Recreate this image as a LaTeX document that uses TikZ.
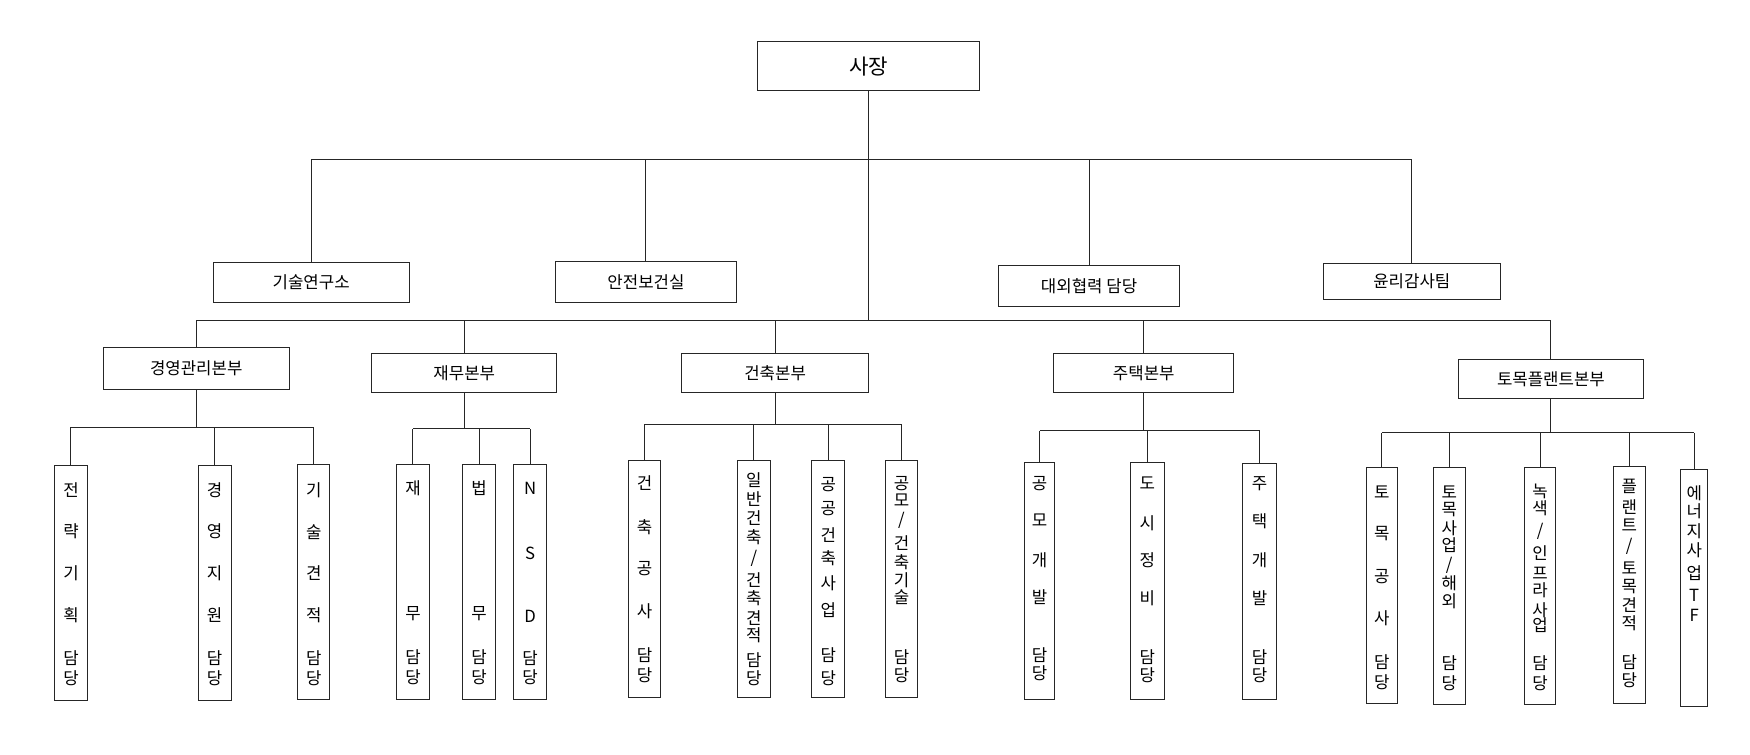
\documentclass[tikz,border=0pt]{standalone}
\usepackage{fontspec}
\setmainfont{Noto Sans CJK KR}
\newcommand\sls{/}
\newcommand\orgh[6]{\node[bx,minimum width=#4,minimum height=#5] (#1) at (#2,#3) {#6};}
\newcommand\orgv[6]{\node[bx,minimum width=#3-#2,minimum height=#5-#4] (#1) at ({(#2+#3)/2},{(#4+#5)/2}) {};
  \foreach \yz/\c [count=\i] in {#6} \node[vch] (#1c\i) at ({(#2+#3)/2},{340.5+0.2987*\yz}) {\c};}
\begin{document}
\begin{tikzpicture}[x=1pt,y=-1pt,
  ln/.style={line width=0.9pt,draw=black!85},
  bx/.style={draw=black!85,line width=0.9pt,rectangle,inner sep=0pt,font=\fontsize{15}{18}\selectfont},
  vch/.style={inner sep=0pt,font=\fontsize{15}{18}\selectfont}]
\useasboundingbox (0,0) rectangle (1568,676);
% top
\node[bx,minimum width=199,minimum height=43.7,font=\fontsize{19}{22}\selectfont] (ceo) at (778.5,59.2) {사장};
\orgh{rnd}{278.8}{252.8}{175.5}{35.6}{기술연구소}
\orgh{safe}{578.8}{252.8}{162.5}{36.5}{안전보건실}
\orgh{ext}{975.8}{256.2}{162.5}{36.7}{대외협력 담당}
\orgh{eth}{1265}{252}{158}{32}{윤리감사팀}
\orgh{mgmt}{175.8}{329.8}{166.5}{37.6}{경영관리본부}
\orgh{fin}{416}{334}{166}{35}{재무본부}
\orgh{arch}{694.5}{334.5}{167}{35}{건축본부}
\orgh{hous}{1024.8}{334}{161.6}{35}{주택본부}
\orgh{civ}{1389.6}{339.5}{166}{35}{토목플랜트본부}
% vertical boxes
\orgv{v1}{48.6}{78.6}{417}{628}{330/전,455/략,580/기,705/획,835/담,895/당}
\orgv{v2}{177.6}{207}{417}{628}{330/경,455/영,580/지,705/원,835/담,895/당}
\orgv{v3}{267}{295.5}{416}{627}{330/기,455/술,580/견,705/적,835/담,895/당}
\orgv{v4}{355.5}{384.5}{416}{627}{325/재,700/무,830/담,890/당}
\orgv{v5}{414.5}{444}{416}{627}{325/법,700/무,830/담,890/당}
\orgv{v6}{460}{490}{416}{627}{325/N,520/S,710/D,835/담,890/당}
\orgv{v7}{563}{592}{413}{625}{310/건,440/축,565/공,695/사,825/담,885/당}
\orgv{v8}{661}{690}{413}{625}{300/일,357/반,415/건,470/축,535/\sls,600/건,655/축,715/견,765/적,840/담,895/당}
\orgv{v9}{727.5}{757}{413}{625}{315/공,385/공,465/건,535/축,610/사,690/업,825/담,895/당}
\orgv{v10}{793.4}{822}{413}{625}{310/공,360/모,420/\sls,490/건,545/축,600/기,650/술,830/담,885/당}
\orgv{v11}{918}{945}{414}{627}{310/공,420/모,540/개,650/발,825/담,880/당}
\orgv{v12}{1013}{1043}{414}{627}{310/도,430/시,540/정,655/비,830/담,885/당}
\orgv{v13}{1113}{1144}{415}{627}{310/주,425/택,540/개,655/발,830/담,885/당}
\orgv{v14}{1224}{1252}{419}{630}{335/토,460/목,590/공,715/사,845/담,905/당}
\orgv{v15}{1284}{1313}{419}{631}{335/토,390/목,445/사,495/업,555/\sls,610/해,665/외,850/담,910/당}
\orgv{v16}{1366}{1394}{419}{631}{335/녹,385/색,455/\sls,520/인,580/프,630/라,690/사,735/업,850/담,910/당}
\orgv{v17}{1445.6}{1474}{418}{630}{320/플,380/랜,435/트,500/\sls,565/토,620/목,675/견,730/적,845/담,900/당}
\orgv{v18}{1506}{1530}{421}{633}{340/에,395/너,455/지,510/사,580/업,645/T,705/F}
% buses
\coordinate (b1) at (0,142.8);
\coordinate (b2) at (0,287.6);
\coordinate (bm) at (0,383);
\coordinate (bf) at (0,384);
\coordinate (ba) at (0,380);
\coordinate (bh) at (0,386);
\coordinate (bc) at (0,387.7);
\draw[ln] (ceo.south) -- (ceo.south |- b2);
\draw[ln] (rnd.north |- b1) -- (eth.north |- b1);
\foreach \n in {rnd,safe,ext,eth} \draw[ln] (\n.north) -- (\n.north |- b1);
\draw[ln] (mgmt.north |- b2) -- (civ.north |- b2);
\foreach \n in {mgmt,fin,arch,hous,civ} \draw[ln] (\n.north) -- (\n.north |- b2);
% level 4
\draw[ln] (mgmt.south) -- (mgmt.south |- bm);
\draw[ln] (v1.north |- bm) -- (v3.north |- bm);
\foreach \n in {v1,v2,v3} \draw[ln] (\n.north) -- (\n.north |- bm);
\draw[ln] (fin.south) -- (fin.south |- bf);
\draw[ln] (v4.north |- bf) -- (v6.north |- bf);
\foreach \n in {v4,v5,v6} \draw[ln] (\n.north) -- (\n.north |- bf);
\draw[ln] (arch.south) -- (arch.south |- ba);
\draw[ln] (v7.north |- ba) -- (v10.north |- ba);
\foreach \n in {v7,v8,v9,v10} \draw[ln] (\n.north) -- (\n.north |- ba);
\draw[ln] (hous.south) -- (hous.south |- bh);
\draw[ln] (v11.north |- bh) -- (v13.north |- bh);
\foreach \n in {v11,v12,v13} \draw[ln] (\n.north) -- (\n.north |- bh);
\draw[ln] (civ.south) -- (civ.south |- bc);
\draw[ln] (v14.north |- bc) -- (v18.north |- bc);
\foreach \n in {v14,v15,v16,v17,v18} \draw[ln] (\n.north) -- (\n.north |- bc);
\end{tikzpicture}
\end{document}
